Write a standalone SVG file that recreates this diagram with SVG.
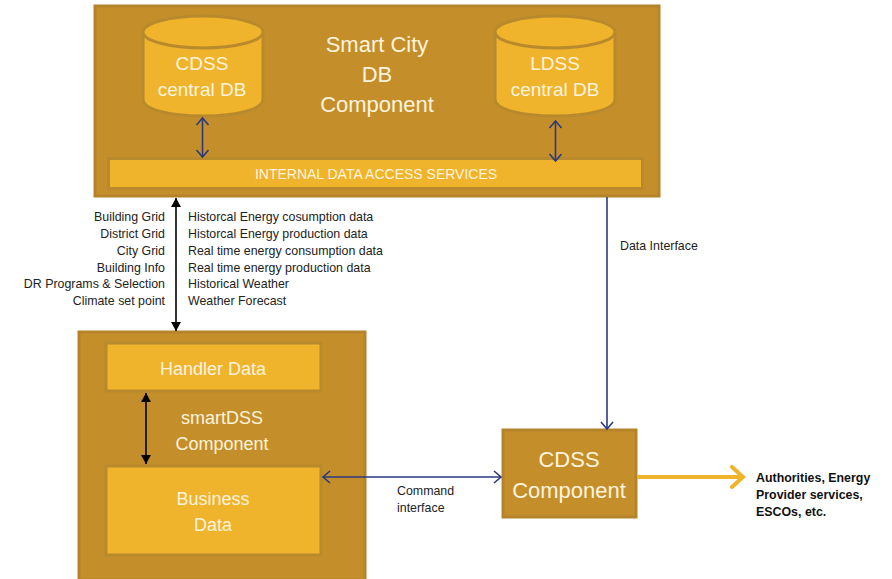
<svg xmlns="http://www.w3.org/2000/svg" width="892" height="579" viewBox="0 0 892 579">
<defs>
<marker id="o" markerUnits="userSpaceOnUse" markerWidth="16" markerHeight="16" refX="14" refY="8" orient="auto-start-reverse"><path d="M7 2 L14 8 L7 14" fill="none" stroke="#2b3a80" stroke-width="1.6"/></marker>
<marker id="s" markerUnits="userSpaceOnUse" markerWidth="12" markerHeight="12" refX="10" refY="6" orient="auto-start-reverse"><path d="M1 1 L10 6 L1 11 Z" fill="#000"/></marker>
<marker id="y" markerUnits="userSpaceOnUse" markerWidth="24" markerHeight="24" refX="19" refY="12" orient="auto"><path d="M8 2 L19 12 L8 22" fill="none" stroke="#f0b32c" stroke-width="4" stroke-linecap="round"/></marker>
</defs>
<style>
.outer{fill:#c48f2b;stroke:#b5842a;stroke-width:3}
.inner{fill:#f0b32c;stroke:#b88a2c;stroke-width:3}
.t{font-family:"Liberation Sans",Arial,sans-serif;fill:#fdf3dc;text-anchor:middle}
.l{font-family:"Liberation Sans",Arial,sans-serif;font-size:12.4px;fill:#222}
.e{text-anchor:end}
.b{font-family:"Liberation Sans",Arial,sans-serif;font-size:12.4px;font-weight:bold;fill:#111}
.n{fill:none;stroke:#2b3a80;stroke-width:1.6}
.k{fill:none;stroke:#000;stroke-width:1.6}
</style>
<rect width="892" height="579" fill="#fff"/>
<g id="smart-city-db">
<rect class="outer" x="95" y="6" width="564" height="190"/>
<text class="t" font-size="22" x="377" y="52">Smart City</text>
<text class="t" font-size="22" x="377" y="82">DB</text>
<text class="t" font-size="22" x="377" y="112">Component</text>
</g>
<g id="cdss-central-db">
<path class="inner" d="M143 32 V99 C143 109 167 116 203 116 C239 116 263 109 263 99 V32"/>
<ellipse class="inner" cx="203" cy="32" rx="60" ry="16"/>
<text class="t" font-size="19" x="202" y="70">CDSS</text>
<text class="t" font-size="19" x="202" y="96">central DB</text>
</g>
<g id="ldss-central-db">
<path class="inner" d="M495 32 V99 C495 109 519 116 555 116 C591 116 615 109 615 99 V32"/>
<ellipse class="inner" cx="555" cy="32" rx="60" ry="16"/>
<text class="t" font-size="19" x="555" y="70">LDSS</text>
<text class="t" font-size="19" x="555" y="96">central DB</text>
</g>
<g id="internal-data-access">
<rect class="inner" x="108.500" y="158.500" width="534" height="30"/>
<text class="t" font-size="14" x="376" y="179">INTERNAL DATA ACCESS SERVICES</text>
</g>
<g id="smartdss">
<rect class="outer" x="79" y="332" width="286" height="248"/>
<text class="t" font-size="18" x="222" y="424">smartDSS</text>
<text class="t" font-size="18" x="222" y="450">Component</text>
</g>
<g id="handler-data">
<rect class="inner" x="106" y="343" width="215" height="48"/>
<text class="t" font-size="18" x="213" y="375">Handler Data</text>
</g>
<g id="business-data">
<rect class="inner" x="106" y="466" width="215" height="89"/>
<text class="t" font-size="18" x="213" y="505">Business</text>
<text class="t" font-size="18" x="213" y="531">Data</text>
</g>
<g id="cdss-component">
<rect class="outer" x="503" y="430" width="133" height="87"/>
<text class="t" font-size="22" x="569" y="467">CDSS</text>
<text class="t" font-size="22" x="569" y="498">Component</text>
</g>
<g id="connectors">
<path class="n" d="M202.500 118 V157" marker-start="url(#o)" marker-end="url(#o)"/>
<path class="n" d="M555.500 121 V161" marker-start="url(#o)" marker-end="url(#o)"/>
<path class="n" d="M607 197 V429" marker-end="url(#o)"/>
<path class="n" d="M323 477 H501" marker-start="url(#o)" marker-end="url(#o)"/>
<path class="k" d="M176 198 V331" marker-start="url(#s)" marker-end="url(#s)"/>
<path class="k" d="M146 393 V464" marker-start="url(#s)" marker-end="url(#s)"/>
<path d="M637 477 H743" fill="none" stroke="#f0b32c" stroke-width="4" marker-end="url(#y)"/>
</g>
<g id="labels">
<text class="l e" x="165" y="221">Building Grid</text>
<text class="l e" x="165" y="238">District Grid</text>
<text class="l e" x="165" y="255">City Grid</text>
<text class="l e" x="165" y="272">Building Info</text>
<text class="l e" x="165" y="288">DR Programs &amp; Selection</text>
<text class="l e" x="165" y="305">Climate set point</text>
<text class="l" x="188" y="221">Historcal Energy cosumption data</text>
<text class="l" x="188" y="238">Historcal Energy production data</text>
<text class="l" x="188" y="255">Real time energy consumption data</text>
<text class="l" x="188" y="272">Real time energy production data</text>
<text class="l" x="188" y="288">Historical Weather</text>
<text class="l" x="188" y="305">Weather Forecast</text>
<text class="l" x="620" y="250">Data Interface</text>
<text class="l" x="397" y="495">Command</text>
<text class="l" x="397" y="512">interface</text>
<text class="b" x="756" y="482">Authorities, Energy</text>
<text class="b" x="756" y="499">Provider services,</text>
<text class="b" x="756" y="516">ESCOs, etc.</text>
</g>
</svg>
